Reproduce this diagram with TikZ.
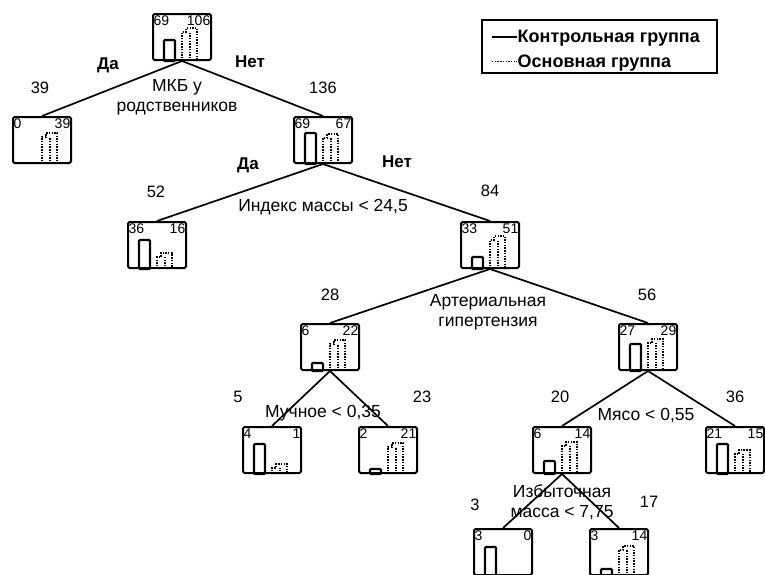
\documentclass[tikz,border=0pt]{standalone}
\usepackage{fontspec}
\setmainfont{Liberation Sans}
\tikzset{
  leafbox/.style={draw, line width=2pt, rounded corners=1.5pt, minimum width=58pt, minimum height=46pt, inner sep=0pt},
  boxnum/.style={font=\fontsize{14}{15}\selectfont, inner xsep=1.5pt, inner ysep=3pt},
  branch/.style={line width=1.7pt},
  countlabel/.style={font=\fontsize{16.5}{18}\selectfont},
  splitlabel/.style={font=\fontsize{17.5}{20}\selectfont, align=center},
  yesno/.style={font=\fontsize{17}{20}\selectfont\bfseries},
  legtext/.style={font=\fontsize{18}{20}\selectfont\bfseries, inner xsep=0.5pt},
  ctrlline/.style={line width=2.2pt, rounded corners=1pt},
  mainline/.style={line width=1.8pt, dash pattern=on 1.4pt off 1.3pt},
}
% box with the two group counts
\newcommand{\histbox}[4]{%
  \node[leafbox] (#1) at (#2) {};
  \node[boxnum, anchor=north west] (#1-l) at (#1.north west) {#3};
  \node[boxnum, anchor=north east] (#1-r) at (#1.north east) {#4};
}
% solid bar (control group)
\newcommand{\ctrlbar}[2]{%
  \draw[ctrlline] ([xshift=12pt]#1.south west) rectangle ++(11,-#2);
}
% dotted bar (main group)
\newcommand{\mainbar}[2]{%
  \draw[mainline] ([xshift=30pt]#1.south west) -- ++(0,-#2+4) -- ++(4,0) -- ++(0,-4) -- ++(11,0) -- ++(0,#2);
  \draw[mainline] ([xshift=38pt]#1.south west) -- ++(0,-#2+4);
}
\begin{document}
\begin{tikzpicture}[x=1pt,y=-1pt]
\clip (0,0) rectangle (765,574);

% legend
\node[draw, line width=2pt, minimum width=235pt, minimum height=53pt] (legend) at (599.5,46.5) {};
\node[legtext, anchor=base west] (ctrl) at (517,42) {Контрольная группа};
\node[legtext, anchor=base west] (main) at (517,67) {Основная группа};
\coordinate (ctrl-s) at (492,37);
\coordinate (main-s) at (492,61.5);
\draw[ctrlline] (ctrl-s) -- (ctrl-s -| ctrl.west);
\draw[mainline] (main-s) -- (main-s -| main.west);

% boxes
\histbox{root}{182,37}{69}{106}
\histbox{n1}{42,140}{0}{39}
\histbox{n2}{323,140}{69}{67}
\histbox{n3}{157,245}{36}{16}
\histbox{n4}{490,245}{33}{51}
\histbox{n5}{330,347}{6}{22}
\histbox{n6}{648,347}{27}{29}
\histbox{n7}{272,450}{4}{1}
\histbox{n8}{388,450}{2}{21}
\histbox{n9}{562,450}{6}{14}
\histbox{n10}{735,450}{21}{15}
\histbox{n11}{503,552}{3}{0}
\histbox{n12}{619,552}{3}{14}

% bars
\ctrlbar{root}{21} \mainbar{root}{33}
\mainbar{n1}{31}
\ctrlbar{n2}{31} \mainbar{n2}{30}
\ctrlbar{n3}{29} \mainbar{n3}{16}
\ctrlbar{n4}{12} \mainbar{n4}{33}
\ctrlbar{n5}{8} \mainbar{n5}{31}
\ctrlbar{n6}{27} \mainbar{n6}{32}
\ctrlbar{n7}{30} \mainbar{n7}{10}
\ctrlbar{n8}{5} \mainbar{n8}{31}
\ctrlbar{n9}{13} \mainbar{n9}{32}
\ctrlbar{n10}{30} \mainbar{n10}{24}
\ctrlbar{n11}{29}
\ctrlbar{n12}{7} \mainbar{n12}{30}

% branches
\draw[branch] (root.south) -- (n1.north);
\draw[branch] (root.south) -- (n2.north);
\draw[branch] (n2.south) -- (n3.north);
\draw[branch] (n2.south) -- (n4.north);
\draw[branch] (n4.south) -- (n5.north);
\draw[branch] (n4.south) -- (n6.north);
\draw[branch] (n5.south) -- (n7.north);
\draw[branch] (n5.south) -- (n8.north);
\draw[branch] (n6.south) -- (n9.north);
\draw[branch] (n6.south) -- (n10.north);
\draw[branch] (n9.south) -- (n11.north);
\draw[branch] (n9.south) -- (n12.north);

% sizes of the subgroups
\node[countlabel] (c-n1) at (40,88) {39};
\node[countlabel] (c-n2) at (323,88) {136};
\node[countlabel] (c-n3) at (156,192) {52};
\node[countlabel] (c-n4) at (490,191) {84};
\node[countlabel] (c-n5) at (330,295) {28};
\node[countlabel] (c-n6) at (647,295) {56};
\node[countlabel] (c-n7) at (238,397) {5};
\node[countlabel] (c-n8) at (422,397) {23};
\node[countlabel] (c-n9) at (560,397) {20};
\node[countlabel] (c-n10) at (735,397) {36};
\node[countlabel] (c-n11) at (475,505) {3};
\node[countlabel] (c-n12) at (649,502) {17};

% yes / no
\node[yesno] (yes1) at (108,65) {Да};
\node[yesno] (no1) at (250,62) {Нет};
\node[yesno] (yes2) at (248,165) {Да};
\node[yesno] (no2) at (397,162) {Нет};

% splitting rules
\node[splitlabel] (s-root) at (177,97) {МКБ у\\родственников};
\node[splitlabel] (s-n2) at (323,207) {Индекс массы < 24,5};
\node[splitlabel] (s-n4) at (488,312) {Артериальная\\гипертензия};
\node[splitlabel] (s-n5) at (323,413) {Мучное < 0,35};
\node[splitlabel] (s-n6) at (646,415) {Мясо < 0,55};
\node[splitlabel] (s-n9) at (562,502) {Избыточная\\масса < 7,75};
\end{tikzpicture}
\end{document}
